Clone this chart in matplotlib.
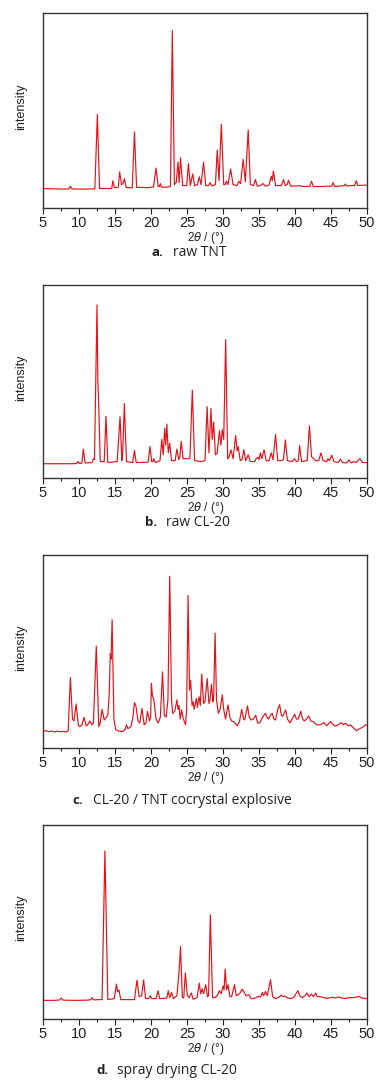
import numpy as np
import matplotlib
matplotlib.use('Agg')
import matplotlib.pyplot as plt

# (2theta, relative intensity) vertices
tnt = [(5.0, .100), (6.5, .098), (8.0, .097), (8.6, .098), (8.8, .112), (9.0, .098), (10.5, .097),
       (12.2, .098), (12.55, .48), (12.85, .10), (14.0, .100), (14.55, .10), (14.7, .14), (14.9, .105),
       (15.45, .105), (15.65, .185), (15.9, .12), (16.1, .125), (16.3, .15), (16.55, .105), (17.4, .103),
       (17.7, .39), (18.0, .105), (18.5, .106), (19.5, .104), (20.35, .108), (20.7, .205), (21.0, .11),
       (21.15, .11), (21.3, .125), (21.45, .107), (22.2, .107), (22.7, .11), (22.96, .91), (23.25, .12),
       (23.5, .13), (23.75, .235), (23.9, .13), (24.1, .257), (24.4, .115), (24.95, .115), (25.2, .228),
       (25.45, .115), (25.8, .175), (26.05, .115), (26.45, .12), (26.7, .16), (26.95, .12), (27.3, .235),
       (27.6, .115), (28.0, .115), (28.2, .13), (28.45, .113), (28.95, .12), (29.2, .297), (29.45, .14),
       (29.77, .43), (30.1, .12), (30.3, .12), (30.46, .137), (30.7, .12), (31.06, .20), (31.4, .12),
       (31.95, .115), (32.2, .137), (32.45, .125), (32.8, .25), (33.1, .135), (33.5, .40), (33.8, .12),
       (34.25, .115), (34.5, .146), (34.75, .112), (35.2, .115), (35.55, .125), (35.9, .112), (36.4, .118),
       (36.7, .163), (36.85, .14), (37.0, .19), (37.3, .115), (38.1, .115), (38.4, .146), (38.65, .115),
       (38.9, .12), (39.1, .142), (39.4, .112), (40.0, .113), (40.6, .114), (41.2, .11), (42.05, .112),
       (42.3, .137), (42.55, .11), (43.5, .11), (44.5, .112), (45.1, .112), (45.3, .13), (45.5, .11),
       (46.2, .113), (46.8, .114), (47.0, .123), (47.2, .113), (47.8, .115), (48.3, .115), (48.5, .14),
       (48.75, .115), (49.5, .117), (50.0, .117)]

cl20 = [(5.0, .074), (7.0, .074), (9.0, .074), (9.65, .075), (9.86, .086), (10.05, .075), (10.4, .077),
        (10.6, .15), (10.85, .078), (11.8, .08), (12.0, .10), (12.15, .095), (12.5, .897), (12.62, .5),
        (12.73, .386), (12.95, .085), (13.5, .085), (13.75, .32), (14.0, .08), (15.3, .085), (15.7, .317),
        (15.95, .09), (16.05, .12), (16.3, .386), (16.6, .085), (17.45, .08), (17.7, .142), (17.95, .08),
        (19.6, .082), (19.86, .163), (20.1, .085), (20.25, .085), (20.4, .10), (20.6, .08), (21.25, .09),
        (21.5, .20), (21.7, .12), (21.9, .257), (22.05, .17), (22.2, .28), (22.4, .13), (22.6, .18),
        (22.85, .09), (23.35, .09), (23.6, .15), (23.85, .095), (24.0, .11), (24.2, .19), (24.45, .10),
        (25.4, .10), (25.74, .455), (26.05, .09), (27.0, .085), (27.5, .09), (27.8, .37), (28.05, .13),
        (28.33, .36), (28.5, .2), (28.7, .29), (28.95, .12), (29.2, .13), (29.5, .245), (29.7, .17),
        (29.9, .25), (30.1, .2), (30.37, .717), (30.65, .10), (30.85, .11), (31.1, .146), (31.4, .10),
        (31.76, .22), (31.95, .14), (32.1, .163), (32.4, .09), (32.65, .095), (32.9, .146), (33.15, .09),
        (33.5, .12), (33.8, .085), (34.4, .085), (34.6, .10), (34.86, .108), (35.0, .095), (35.2, .13),
        (35.4, .10), (35.7, .146), (36.0, .09), (36.4, .09), (36.7, .13), (36.95, .095), (37.3, .225),
        (37.6, .09), (38.1, .09), (38.4, .095), (38.66, .197), (38.95, .09), (39.6, .085), (39.9, .10),
        (40.2, .085), (40.45, .09), (40.65, .168), (40.9, .085), (41.7, .09), (42.0, .27), (42.3, .11),
        (42.6, .10), (42.85, .09), (43.3, .09), (43.6, .13), (43.9, .09), (44.4, .085), (44.6, .10),
        (44.8, .09), (45.1, .118), (45.4, .085), (46.0, .08), (46.3, .098), (46.6, .08), (47.2, .078),
        (47.5, .094), (47.8, .078), (48.2, .086), (48.5, .08), (49.0, .10), (49.4, .08), (50.0, .08)]

cocrystal = [(5.0, .086), (5.4, .09), (5.8, .084), (6.2, .088), (6.6, .083), (7.0, .087), (7.4, .084),
             (7.8, .086), (8.2, .083), (8.5, .09), (8.8, .365), (9.1, .15), (9.3, .14), (9.6, .228),
             (9.9, .12), (10.1, .11), (10.4, .12), (10.7, .158), (11.0, .115), (11.2, .12), (11.5, .14),
             (11.8, .12), (12.0, .13), (12.4, .528), (12.75, .11), (12.95, .13), (13.2, .20), (13.5, .145),
             (13.8, .16), (14.0, .17), (14.2, .28), (14.35, .49), (14.45, .46), (14.6, .665), (14.85, .15),
             (15.1, .095), (15.5, .088), (16.0, .085), (16.4, .095), (16.6, .12), (16.8, .10), (17.2, .11),
             (17.45, .15), (17.7, .235), (17.9, .22), (18.2, .14), (18.45, .13), (18.75, .205), (19.05, .12),
             (19.3, .13), (19.5, .19), (19.8, .14), (19.95, .16), (20.05, .335), (20.2, .27), (20.4, .25),
             (20.7, .15), (21.0, .13), (21.3, .16), (21.6, .395), (21.85, .17), (22.1, .16), (22.35, .25),
             (22.6, .89), (22.85, .25), (23.0, .18), (23.3, .19), (23.6, .25), (23.75, .20), (23.9, .22),
             (24.05, .15), (24.25, .197), (24.5, .15), (24.8, .12), (24.95, .2), (25.15, .79), (25.35, .30),
             (25.5, .35), (25.7, .22), (25.85, .24), (26.0, .20), (26.3, .257), (26.45, .21), (26.67, .266),
             (26.85, .22), (27.04, .383), (27.3, .23), (27.5, .24), (27.8, .36), (28.05, .23), (28.2, .25),
             (28.4, .33), (28.6, .24), (28.7, .26), (28.9, .595), (29.1, .25), (29.35, .18), (29.6, .2),
             (29.9, .275), (30.1, .2), (30.35, .15), (30.7, .223), (30.95, .16), (31.2, .14), (31.5, .135),
             (32.0, .115), (32.3, .14), (32.6, .20), (32.85, .15), (33.0, .145), (33.4, .218), (33.65, .16),
             (33.9, .145), (34.2, .15), (34.55, .17), (34.8, .13), (35.1, .13), (35.5, .16), (35.9, .18),
             (36.1, .16), (36.3, .15), (36.6, .17), (36.85, .18), (37.05, .15), (37.3, .145), (37.6, .2),
             (37.87, .225), (38.1, .17), (38.3, .165), (38.7, .197), (38.95, .15), (39.3, .13), (39.6, .15),
             (39.95, .175), (40.2, .15), (40.45, .15), (40.8, .19), (41.05, .15), (41.3, .14), (41.6, .15),
             (41.9, .166), (42.2, .14), (42.6, .135), (43.0, .12), (43.5, .12), (44.0, .132), (44.4, .115),
             (44.95, .137), (45.3, .12), (45.6, .113), (46.0, .12), (46.4, .132), (46.7, .12), (47.0, .128),
             (47.4, .115), (47.7, .12), (48.1, .105), (48.5, .09), (49.0, .1), (49.5, .11), (49.8, .12),
             (50.0, .118)]

spray = [(5.0, .096), (6.5, .096), (7.3, .098), (7.55, .108), (7.8, .097), (9.5, .096), (11.0, .097),
         (11.6, .099), (11.8, .11), (12.0, .099), (13.2, .1), (13.6, .866), (14.0, .1), (14.9, .105),
         (15.2, .18), (15.35, .14), (15.55, .15), (15.8, .1), (17.7, .10), (18.05, .20), (18.35, .115),
         (18.7, .12), (18.98, .202), (19.25, .105), (19.7, .106), (19.9, .12), (20.1, .105), (20.7, .105),
         (20.97, .146), (21.2, .105), (22.2, .108), (22.4, .146), (22.6, .11), (22.87, .137), (23.1, .105),
         (23.6, .12), (23.9, .242), (24.1, .374), (24.35, .11), (24.55, .11), (24.77, .237), (25.05, .12),
         (25.3, .11), (25.6, .134), (25.85, .102), (26.4, .11), (26.7, .185), (26.9, .13), (27.1, .156),
         (27.3, .13), (27.6, .177), (27.85, .115), (28.0, .12), (28.24, .537), (28.55, .11), (28.85, .11),
         (29.2, .12), (29.5, .146), (29.75, .13), (30.0, .17), (30.15, .15), (30.3, .257), (30.5, .15),
         (30.7, .177), (30.95, .115), (31.2, .115), (31.6, .177), (31.85, .12), (32.1, .125), (32.4, .135),
         (32.64, .154), (32.9, .14), (33.2, .12), (33.6, .125), (33.9, .105), (34.3, .105), (34.9, .117),
         (35.2, .113), (35.46, .137), (35.65, .12), (35.9, .142), (36.15, .12), (36.6, .202), (36.9, .115),
         (37.3, .105), (37.8, .113), (38.1, .123), (38.35, .115), (38.6, .118), (38.9, .11), (39.3, .105),
         (39.8, .11), (40.4, .146), (40.7, .118), (41.0, .11), (41.4, .12), (41.67, .134), (41.95, .115),
         (42.27, .129), (42.55, .115), (42.87, .134), (43.1, .115), (43.5, .115), (44.0, .11), (44.5, .106),
         (45.2, .112), (45.6, .108), (46.0, .114), (46.5, .108), (47.0, .106), (47.5, .11), (48.0, .11),
         (48.5, .112), (48.9, .117), (49.3, .108), (50.0, .105)]

patterns = [tnt, cl20, cocrystal, spray]
tags = ['a.', 'b.', 'c.', 'd.']
captions = ['raw TNT', 'raw CL-20', 'CL-20 / TNT cocrystal explosive', 'spray drying CL-20']
xticks = [5, 10, 15, 20, 25, 30, 35, 40, 45, 50]

W, H = 388, 1084
# axes top/bottom in pixels, caption left edge and caption centre line
tops = [13, 285, 555, 825]
bots = [208, 478, 748, 1019]
cap_x = [152, 145, 72, 96]
cap_y = [252, 522, 801, 1071]

fig = plt.figure(figsize=(W / 100, H / 100), dpi=100)
red = '#e3121b'

for i in range(4):
    ax = fig.add_axes([43 / W, 1 - bots[i] / H, 324 / W, (bots[i] - tops[i]) / H])
    pts = np.array(patterns[i])
    ax.plot(pts[:, 0], pts[:, 1], color=red, lw=0.85)
    ax.set_xlim(5, 50)
    ax.set_ylim(0, 1)
    ax.set_yticks([])
    ax.set_xticks(xticks)
    ax.set_xticks(np.arange(7.5, 50, 5), minor=True)
    ax.tick_params(axis='x', which='major', direction='out', length=4, width=0.8,
                   pad=2, labelsize=10.5, colors='#222222')
    ax.tick_params(axis='x', which='minor', direction='out', length=2.5, width=0.8, colors='#222222')
    for lab in ax.get_xticklabels():
        lab.set_fontfamily('Liberation Sans')
    for s in ax.spines.values():
        s.set_color('#333333')
        s.set_linewidth(1.0)
    ax.set_ylabel('intensity', fontsize=9, family='Liberation Sans', color='#222222')
    ax.yaxis.set_label_coords(-0.048, 0.52)
    ax.set_xlabel(r'2$\theta$ / (°)', fontsize=8.5, family='Liberation Sans', color='#222222')
    ax.xaxis.set_label_coords(0.503, -0.112)

    fig.text(cap_x[i] / W, 1 - cap_y[i] / H, tags[i], fontsize=9.5, fontweight='bold',
             family='Open Sans', va='center', ha='left', color='#222222')
    fig.text((cap_x[i] + 21) / W, 1 - cap_y[i] / H, captions[i], fontsize=10,
             family='Open Sans', va='center', ha='left', color='#222222')

fig.savefig('out.png', dpi=100)
